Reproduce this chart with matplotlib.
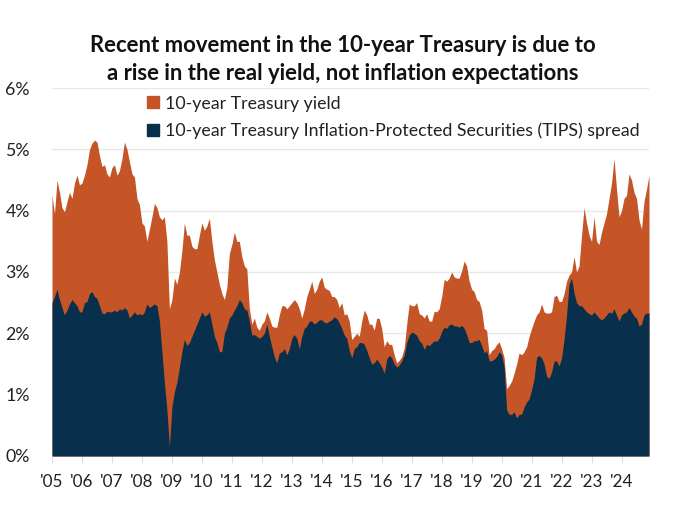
import numpy as np
import matplotlib
matplotlib.use("Agg")
import matplotlib.pyplot as plt
from matplotlib.lines import Line2D

plt.rcParams['font.family'] = ['Lato', 'DejaVu Sans']

# monthly readings, Jan 2005 .. Dec 2024 (percent)
start_year = 2005
treasury_yield = [
    4.25, 3.95, 4.50, 4.30, 4.05, 3.98, 4.15, 4.30, 4.20, 4.45, 4.58, 4.42,  # 2005
    4.45, 4.58, 4.75, 5.00, 5.10, 5.15, 5.12, 4.90, 4.72, 4.75, 4.60, 4.55,  # 2006
    4.70, 4.75, 4.58, 4.65, 4.85, 5.12, 5.00, 4.80, 4.60, 4.55, 4.20, 4.10,  # 2007
    3.80, 3.75, 3.50, 3.70, 3.90, 4.12, 4.05, 3.90, 3.85, 3.90, 3.50, 2.40,  # 2008
    2.55, 2.90, 2.80, 3.00, 3.35, 3.80, 3.60, 3.60, 3.42, 3.38, 3.38, 3.60,  # 2009
    3.80, 3.68, 3.75, 3.88, 3.50, 3.20, 3.00, 2.80, 2.65, 2.55, 2.75, 3.30,  # 2010
    3.45, 3.65, 3.50, 3.50, 3.25, 3.10, 3.05, 2.40, 2.15, 2.25, 2.10, 2.05,  # 2011
    2.15, 2.20, 2.35, 2.25, 2.12, 2.10, 2.10, 2.30, 2.45, 2.45, 2.40, 2.45,  # 2012
    2.50, 2.55, 2.50, 2.40, 2.25, 2.40, 2.60, 2.72, 2.85, 2.65, 2.72, 2.85,  # 2013
    2.92, 2.75, 2.72, 2.70, 2.60, 2.60, 2.55, 2.42, 2.50, 2.30, 2.32, 2.20,  # 2014
    1.90, 1.95, 2.00, 1.95, 2.20, 2.38, 2.30, 2.15, 2.15, 2.05, 2.25, 2.24,  # 2015
    2.08, 1.78, 1.88, 1.82, 1.82, 1.65, 1.52, 1.56, 1.62, 1.76, 2.15, 2.48,  # 2016
    2.45, 2.45, 2.50, 2.32, 2.30, 2.25, 2.32, 2.20, 2.20, 2.36, 2.35, 2.40,  # 2017
    2.60, 2.88, 2.85, 2.90, 3.00, 2.92, 2.90, 2.90, 3.02, 3.18, 3.10, 2.85,  # 2018
    2.72, 2.68, 2.55, 2.52, 2.38, 2.08, 2.05, 1.65, 1.72, 1.75, 1.82, 1.86,  # 2019
    1.75, 1.60, 1.10, 1.15, 1.22, 1.35, 1.50, 1.68, 1.65, 1.70, 1.78, 1.95,  # 2020
    2.08, 2.20, 2.30, 2.35, 2.48, 2.35, 2.33, 2.33, 2.35, 2.60, 2.62, 2.52,  # 2021
    2.52, 2.65, 2.85, 2.95, 3.00, 3.25, 3.00, 3.10, 3.60, 4.05, 3.80, 3.60,  # 2022
    3.50, 3.90, 3.50, 3.45, 3.65, 3.80, 3.95, 4.20, 4.45, 4.85, 4.35, 3.90,  # 2023
    4.00, 4.20, 4.25, 4.60, 4.50, 4.30, 4.20, 3.85, 3.70, 4.15, 4.35, 4.58,  # 2024
]
tips_spread = [
    2.50, 2.60, 2.72, 2.55, 2.42, 2.30, 2.38, 2.48, 2.55, 2.50, 2.45, 2.35,  # 2005
    2.35, 2.50, 2.52, 2.65, 2.68, 2.60, 2.57, 2.45, 2.33, 2.32, 2.36, 2.35,  # 2006
    2.35, 2.38, 2.35, 2.40, 2.38, 2.42, 2.38, 2.25, 2.30, 2.35, 2.30, 2.32,  # 2007
    2.30, 2.35, 2.48, 2.42, 2.45, 2.48, 2.45, 2.20, 1.70, 1.20, 0.75, 0.15,  # 2008
    0.80, 1.05, 1.20, 1.45, 1.70, 1.90, 1.80, 1.85, 1.95, 2.05, 2.15, 2.25,  # 2009
    2.35, 2.28, 2.30, 2.35, 2.15, 1.95, 1.85, 1.70, 1.70, 2.00, 2.10, 2.25,  # 2010
    2.30, 2.38, 2.45, 2.55, 2.50, 2.40, 2.38, 2.20, 1.97, 1.98, 1.95, 1.92,  # 2011
    1.95, 2.00, 2.15, 1.95, 1.78, 1.62, 1.52, 1.68, 1.70, 1.75, 1.65, 1.75,  # 2012
    1.92, 1.98, 1.92, 1.75, 1.95, 2.08, 2.12, 2.20, 2.20, 2.15, 2.18, 2.22,  # 2013
    2.22, 2.18, 2.17, 2.20, 2.22, 2.27, 2.24, 2.17, 2.08, 1.97, 1.92, 1.72,  # 2014
    1.60, 1.75, 1.78, 1.85, 1.85, 1.82, 1.72, 1.60, 1.50, 1.52, 1.58, 1.52,  # 2015
    1.45, 1.35, 1.58, 1.64, 1.60, 1.50, 1.45, 1.48, 1.55, 1.65, 1.85, 1.97,  # 2016
    2.02, 2.00, 1.97, 1.88, 1.84, 1.74, 1.82, 1.80, 1.84, 1.88, 1.87, 1.92,  # 2017
    2.03, 2.10, 2.08, 2.14, 2.15, 2.12, 2.12, 2.10, 2.13, 2.08, 1.98, 1.85,  # 2018
    1.85, 1.88, 1.88, 1.90, 1.80, 1.68, 1.72, 1.55, 1.55, 1.58, 1.62, 1.70,  # 2019
    1.65, 1.45, 0.75, 0.68, 0.68, 0.72, 0.62, 0.68, 0.68, 0.80, 0.88, 0.93,  # 2020
    1.08, 1.26, 1.61, 1.64, 1.60, 1.50, 1.30, 1.27, 1.37, 1.55, 1.55, 1.47,  # 2021
    1.60, 1.90, 2.30, 2.80, 2.90, 2.65, 2.50, 2.45, 2.45, 2.40, 2.35, 2.32,  # 2022
    2.30, 2.35, 2.30, 2.25, 2.22, 2.25, 2.30, 2.35, 2.33, 2.40, 2.30, 2.20,  # 2023
    2.30, 2.33, 2.35, 2.42, 2.35, 2.28, 2.25, 2.12, 2.15, 2.30, 2.33, 2.33,  # 2024
]
year_ticks = list(range(2005, 2025))
year_labels = ["'%02d" % (y % 100) for y in year_ticks]
y_ticks = [0, 1, 2, 3, 4, 5, 6]

orange = '#C55526'
navy = '#082F4B'
text_color = '#222222'

x = start_year + np.arange(len(treasury_yield)) / 12.0

fig = plt.figure(figsize=(6.94, 5.11), dpi=100)
ax = fig.add_axes([52 / 694, 1 - 456 / 511, (649 - 52) / 694, (456 - 88) / 511])

ax.fill_between(x, 0, treasury_yield, color=orange, lw=0, zorder=2)
ax.fill_between(x, 0, tips_spread, color=navy, lw=0, zorder=3)

ax.set_xlim(x[0], x[-1])
ax.set_ylim(0, 6)
ax.set_yticks(y_ticks)
ax.set_yticklabels(['%d%%' % v for v in y_ticks])
ax.set_xticks(year_ticks)
ax.set_xticklabels(year_labels)
ax.grid(axis='y', color='#e8e8e8', lw=1, zorder=0)
ax.set_axisbelow(True)
for s in ax.spines.values():
    s.set_visible(False)
ax.tick_params(axis='y', length=0, pad=16, labelsize=12.8, labelcolor=text_color)
ax.tick_params(axis='x', length=5, color='#dddddd', pad=8, labelsize=12.3,
               labelcolor=text_color)

fig.text(0.494, 0.884, "Recent movement in the 10-year Treasury is due to\n"
         "a rise in the real yield, not inflation expectations",
         ha='center', va='center', fontsize=15.9, fontweight='bold',
         color='#111111', linespacing=1.42)

handles = [Line2D([], [], marker='s', ls='', color=orange, markersize=8.5),
           Line2D([], [], marker='s', ls='', color=navy, markersize=8.5)]
labels = ['10-year Treasury yield',
          '10-year Treasury Inflation-Protected Securities (TIPS) spread']
leg = fig.legend(handles, labels, loc='upper left',
                 bbox_to_anchor=(147 / 694, 1 - 95.5 / 511), frameon=False,
                 fontsize=12.8, handlelength=0.7, handletextpad=0.3,
                 labelspacing=0.6, borderaxespad=0, borderpad=0)
for t in leg.get_texts():
    t.set_color(text_color)

fig.savefig('out.png', dpi=100)
